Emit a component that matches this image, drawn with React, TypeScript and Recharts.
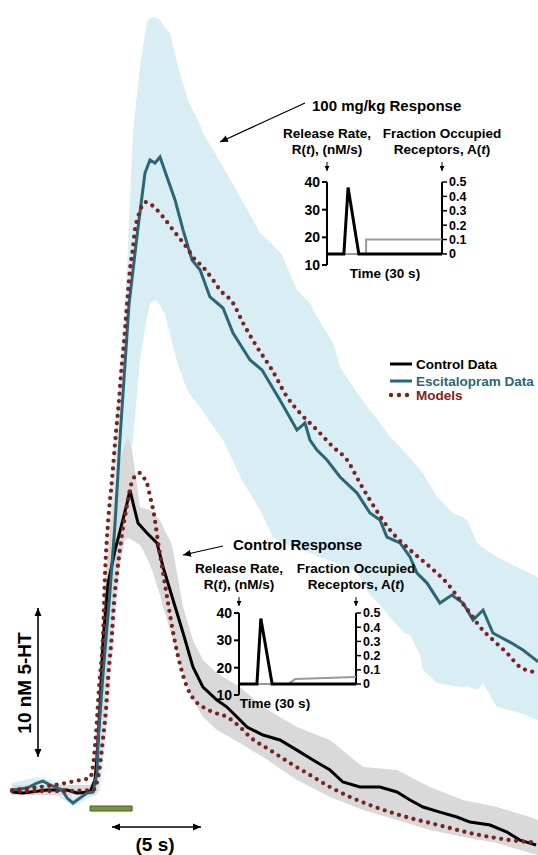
import { Area, ComposedChart, Line, ReferenceArea, ReferenceLine, XAxis, YAxis } from 'recharts';

const FONT = '"Liberation Sans", Arial, Helvetica, sans-serif';

// time (s, 0 = stimulation onset) vs [5-HT] (nM)
const controlData: [number, number][] = [
  [-4.36, -0.13], [-3.74, -0.2], [-2.4, 0], [-1.28, 0], [-0.73, -0.2], [0, -0.13], [0.28, 0.67], [0.39, 2.21],
  [0.56, 5.57], [0.73, 10.07], [1.01, 13.89], [1.4, 16.11], [1.79, 17.92], [2.07, 19.26], [2.23, 20.13],
  [2.46, 18.99], [2.68, 17.92], [3.18, 17.25], [3.74, 16.58], [4.08, 14.97], [4.64, 12.75], [5.2, 10.54],
  [5.75, 8.26], [6.31, 6.91], [7.09, 6.04], [7.65, 5.57], [8.38, 4.7], [8.77, 4.23], [9.66, 3.69], [10.61, 3.36],
  [11.56, 2.68], [12.46, 2.01], [13.41, 1.34], [14.13, 0.54], [15.08, 0.2], [16.2, 0.2], [17.15, -0.13],
  [17.88, -0.67], [18.6, -1.14], [19.55, -1.48], [20.5, -1.81], [21.23, -2.15], [22.35, -2.35], [23.3, -2.82],
  [24.02, -3.36], [24.58, -3.56], [24.92, -3.69],
];

const escitalopramData: [number, number][] = [
  [-4.36, 0], [-3.52, 0.13], [-2.96, 0.47], [-2.63, 0.6], [-2.23, 0.34], [-1.56, 0], [-1.28, -0.54], [-0.95, -0.87],
  [-0.56, -0.54], [-0.17, -0.2], [0.17, -0.13], [0.39, 1.14], [0.45, 3.36], [0.73, 7.85], [1.12, 13.42],
  [1.4, 17.92], [1.68, 23.69], [2.18, 32.62], [2.68, 37.72], [3.07, 41.41], [3.35, 42.28], [3.63, 42.08],
  [3.91, 42.48], [4.3, 41.14], [4.75, 39.6], [5.2, 37.58], [5.7, 35.57], [6.15, 34.9], [6.7, 33.09], [7.43, 32.35],
  [7.99, 30.67], [8.94, 28.86], [9.61, 28.19], [10.61, 26.17], [11.56, 24.16], [12.01, 24.63], [12.29, 23.49],
  [12.68, 22.82], [13.24, 22.15], [13.97, 21.01], [14.92, 19.93], [15.64, 18.59], [16.2, 18.12], [16.59, 16.98],
  [17.32, 16.58], [17.88, 15.64], [18.27, 14.56], [18.83, 13.89], [19.55, 12.55], [20.22, 13.09], [20.84, 12.55],
  [21.4, 11.41], [21.96, 12.08], [22.51, 10.54], [23.46, 9.93], [24.19, 9.4], [24.92, 8.72], [25.03, 8.6],
];

const model100: [number, number][] = [
  [-4.36, 0], [-2.79, 0.2], [-1.68, 0.4], [-0.56, 0.67], [0, 0.81], [0.17, 1.68], [0.34, 3.83], [0.5, 6.85],
  [0.73, 10.54], [0.84, 14.56], [1.01, 17.99], [1.23, 20.87], [1.45, 24.0], [1.62, 26.17], [1.73, 27.92],
  [1.9, 30.07], [2.01, 31.74], [2.12, 33.36], [2.23, 34.9], [2.4, 36.38], [2.51, 37.58], [2.68, 38.46],
  [3.13, 39.46], [3.63, 39.06], [4.08, 38.46], [4.64, 37.58], [5.08, 36.91], [5.42, 36.38], [5.75, 35.77],
  [6.31, 35.1], [6.87, 34.23], [7.26, 33.56], [7.99, 32.68], [8.55, 31.34], [9.33, 29.73], [10.17, 28.19],
  [11.01, 26.38], [11.73, 25.3], [12.68, 24.16], [13.58, 23.02], [14.36, 22.15], [15.08, 20.6], [15.64, 19.46],
  [16.76, 17.45], [17.88, 16.11], [18.99, 14.97], [19.94, 13.89], [20.67, 12.75], [21.23, 11.88], [21.79, 10.94],
  [22.51, 10.07], [23.3, 9.19], [24.02, 8.26], [24.86, 7.92], [25.03, 7.9],
];

const modelControl: [number, number][] = [
  [-4.36, -0.07], [-2.23, -0.07], [0.17, 0], [0.5, 1.21], [0.73, 3.49], [0.89, 5.37], [1.01, 7.52], [1.23, 10.54],
  [1.34, 12.55], [1.51, 14.56], [1.68, 16.24], [2.07, 19.13], [2.29, 20.47], [2.57, 21.14], [2.79, 21.28],
  [2.96, 21.01], [3.18, 20.6], [3.35, 19.73], [3.58, 18.46], [3.8, 16.64], [4.08, 14.56], [4.36, 12.55],
  [4.69, 10.27], [5.08, 8.19], [5.42, 6.91], [5.75, 6.17], [6.31, 5.57], [6.87, 5.23], [7.65, 4.9], [8.38, 4.23],
  [8.94, 3.56], [10.06, 2.68], [11.17, 1.81], [12.29, 1.01], [13.41, 0.2], [14.53, -0.47], [15.64, -1.01],
  [16.76, -1.48], [17.88, -1.88], [18.99, -2.21], [20.11, -2.55], [21.23, -2.89], [22.35, -3.15], [23.46, -3.36],
  [24.58, -3.49], [25.03, -3.52],
];

// [time, low, high] error bands
const controlBand: [number, number, number][] = [
  [-4.36, -0.34, 0.34], [0, -0.34, 0.34], [0.17, -0.34, 0.67], [0.39, -0.13, 4.03], [0.56, 2.01, 8.72],
  [0.84, 6.04, 14.09], [1.12, 10.07, 17.45], [1.4, 13.42, 19.8], [1.68, 15.44, 22.15], [1.96, 16.78, 23.29],
  [2.12, 16.91, 23.69], [2.35, 16.78, 22.82], [2.79, 16.44, 18.99], [2.96, 16.11, 18.93], [3.35, 15.1, 18.79],
  [3.52, 14.56, 18.59], [3.91, 13.09, 18.12], [4.08, 12.28, 17.65], [4.47, 10.74, 16.78], [4.64, 10.07, 16.11],
  [4.86, 9.19, 14.56], [5.2, 7.85, 12.28], [5.75, 6.04, 10.07], [6.31, 4.9, 8.72], [7.09, 4.03, 7.85],
  [8.38, 3.15, 6.91], [9.66, 2.21, 5.57], [11.56, 0.67, 4.23], [13.41, -0.47, 3.36], [15.25, -1.34, 1.54],
  [17.15, -2.01, 1.34], [18.99, -2.68, 0.2], [20.84, -3.15, -0.67], [22.74, -3.56, -1.14], [24.58, -4.23, -1.81],
  [25.03, -4.36, -2.01],
];

const escitalopramBand: [number, number, number][] = [
  [-4.36, -0.4, 0.47], [-2.96, 0.13, 0.87], [-2.23, -0.07, 0.67], [-1.28, -0.81, 0.07], [-0.95, -1.14, -0.47],
  [-0.56, -0.87, -0.2], [0, -0.47, 0.13], [0.28, -0.4, 1.34], [0.56, 0, 9.4], [0.84, 3.02, 13.42],
  [1.12, 6.71, 17.92], [1.4, 11.41, 23.69], [1.68, 14.77, 28.19], [1.96, 18.12, 32.89], [2.12, 20.81, 36.24],
  [2.23, 21.81, 39.6], [2.4, 23.49, 44.09], [2.79, 28.86, 48.52], [3.18, 31.74, 51.54], [3.35, 32.68, 51.81],
  [3.63, 32.89, 51.88], [3.91, 32.55, 51.68], [4.19, 31.88, 51.14], [4.47, 30.54, 50.81], [4.92, 28.52, 48.52],
  [5.47, 26.71, 46.31], [6.15, 25.7, 44.63], [6.31, 25.37, 44.09], [7.43, 23.49, 41.81], [8.49, 20.81, 39.6],
  [9.5, 18.79, 37.38], [10.22, 16.98, 36.58], [10.73, 16.58, 35.91], [11.56, 16.24, 33.56], [12.29, 15.91, 32.68],
  [12.68, 15.7, 31.74], [13.58, 15.3, 30.0], [13.97, 15.1, 28.39], [14.92, 14.63, 26.64], [15.64, 13.09, 25.5],
  [16.2, 12.42, 24.63], [16.76, 11.61, 23.69], [17.49, 10.6, 22.82], [17.88, 10.4, 22.28], [18.44, 9.06, 21.48],
  [18.6, 8.05, 21.28], [19.39, 7.18, 19.66], [20.28, 6.98, 18.59], [20.84, 6.91, 18.32], [21.06, 6.98, 18.12],
  [21.62, 6.71, 16.58], [21.96, 7.18, 16.24], [22.74, 5.57, 15.64], [23.85, 5.23, 14.97], [25.03, 4.7, 14.3],
];

// stimulation bar (s) and its drawn height (nM)
const STIM = [0, 2.35];
const STIM_Y = [-1.41, -1.07];

// insets: time (30 s window) vs R(t) nM/s and A(t)
const release100: [number, number][] = [[0, 14], [4.4, 14], [5.5, 38], [8.3, 14], [30, 14]];
const occupancy100: [number, number][] = [[0, 0], [10.2, 0], [10.2, 0.1], [30, 0.1]];
const releaseCtrl: [number, number][] = [[0, 14], [4.6, 14], [5.6, 38], [8.5, 14], [30, 14]];
const occupancyCtrl: [number, number][] = [[0, 0], [12.6, 0], [14.4, 0.035], [30, 0.05]];
const releaseTicks = [10, 20, 30, 40];
const occupancyTicks = [0, 0.1, 0.2, 0.3, 0.4, 0.5];

const X_DOMAIN = [-5.03, 25.03];
const Y_DOMAIN = [-4.36, 53.02];

const pts = (a: [number, number][]) => a.map(([t, c]) => ({ t, c }));
const band = (a: [number, number, number][]) => a.map(([t, lo, hi]) => ({ t, r: [lo, hi] }));

const TEAL = '#2a6676';
const MAROON = '#7b2222';
const leftTick = { fill: '#000', fontSize: 14, fontWeight: 700, fontFamily: FONT };
const rightTick = { fill: '#000', fontSize: 12.5, fontWeight: 700, fontFamily: FONT };

function Inset({ x, y, w, h, release, occupancy }: { x: number; y: number; w: number; h: number; release: [number, number][]; occupancy: [number, number][] }) {
  const pad = 40;
  return (
    <div style={{ position: 'absolute', left: x - pad, top: y - 10 }}>
      <ComposedChart width={w + pad * 2} height={h + 20} margin={{ top: 10, right: 0, bottom: 10, left: 0 }}>
        <XAxis type="number" dataKey="t" domain={[0, 30]} hide allowDataOverflow />
        <YAxis yAxisId="l" type="number" domain={[10, 40]} ticks={releaseTicks} interval={0} width={pad}
          axisLine={{ stroke: '#000', strokeWidth: 2 }} tickLine={{ stroke: '#000', strokeWidth: 2 }}
          tickSize={5} tickMargin={2} tick={leftTick} allowDataOverflow />
        <YAxis yAxisId="r" orientation="right" type="number" domain={[-0.077, 0.5]} ticks={occupancyTicks} interval={0}
          width={pad} axisLine={false} tickLine={{ stroke: '#000', strokeWidth: 1.5 }} tickSize={5} tickMargin={2}
          tick={rightTick} allowDataOverflow />
        <ReferenceLine yAxisId="r" segment={[{ x: 30, y: 0 }, { x: 30, y: 0.5 }]} stroke="#000" strokeWidth={2} ifOverflow="visible" />
        <Line yAxisId="r" data={pts(occupancy)} dataKey="c" type="linear" stroke="#999" strokeWidth={2}
          dot={false} activeDot={false} isAnimationActive={false} />
        <Line yAxisId="l" data={pts(release)} dataKey="c" type="linear" stroke="#000" strokeWidth={3}
          dot={false} activeDot={false} isAnimationActive={false} />
      </ComposedChart>
    </div>
  );
}

function Txt({ x, y, size = 13.5, anchor = 'middle', fill = '#000', children }: any) {
  return (
    <text x={x} y={y} fontSize={size} fontWeight={700} fontFamily={FONT} textAnchor={anchor} fill={fill}>
      {children}
    </text>
  );
}

function InsetLabels({ lx, rx, y }: { lx: number; rx: number; y: number }) {
  return (
    <g>
      <Txt x={lx} y={y}>Release Rate,</Txt>
      <Txt x={lx} y={y + 16}>R(<tspan fontStyle="italic">t</tspan>), (nM/s)</Txt>
      <Txt x={rx} y={y}>Fraction Occupied</Txt>
      <Txt x={rx} y={y + 16}>Receptors, A(<tspan fontStyle="italic">t</tspan>)</Txt>
      <line x1={lx} y1={y + 24} x2={lx} y2={y + 33} stroke="#000" strokeWidth={1} markerEnd="url(#tiny)" />
      <line x1={rx} y1={y + 24} x2={rx} y2={y + 33} stroke="#000" strokeWidth={1} markerEnd="url(#tiny)" />
    </g>
  );
}

export default function App() {
  return (
    <div style={{ position: 'absolute', left: 0, top: 0, width: 538, height: 855, background: '#fff', overflow: 'hidden' }}>
      <ComposedChart width={538} height={855} margin={{ top: 0, right: 0, bottom: 0, left: 0 }}>
        <XAxis type="number" dataKey="t" domain={X_DOMAIN} hide allowDataOverflow />
        <YAxis type="number" domain={Y_DOMAIN} hide width={0} allowDataOverflow />
        <Area data={band(escitalopramBand)} dataKey="r" type="linear" stroke="none" fill="#d8edf4" fillOpacity={1}
          isAnimationActive={false} activeDot={false} />
        <Area data={band(controlBand)} dataKey="r" type="linear" stroke="none" fill="#d9d9d9" fillOpacity={1}
          isAnimationActive={false} activeDot={false} />
        <ReferenceArea x1={STIM[0]} x2={STIM[1]} y1={STIM_Y[0]} y2={STIM_Y[1]} fill="#77933c" fillOpacity={1}
          stroke="#4f6228" strokeWidth={1} ifOverflow="visible" />
        <Line data={pts(controlData)} dataKey="c" type="linear" stroke="#000" strokeWidth={3}
          dot={false} activeDot={false} isAnimationActive={false} />
        <Line data={pts(escitalopramData)} dataKey="c" type="linear" stroke={TEAL} strokeWidth={3}
          dot={false} activeDot={false} isAnimationActive={false} />
        <Line data={pts(model100)} dataKey="c" type="monotone" stroke={MAROON} strokeWidth={4.3} strokeLinecap="round"
          strokeDasharray="0 7.5" dot={false} activeDot={false} isAnimationActive={false} />
        <Line data={pts(modelControl)} dataKey="c" type="monotone" stroke={MAROON} strokeWidth={4.3} strokeLinecap="round"
          strokeDasharray="0 7.5" dot={false} activeDot={false} isAnimationActive={false} />
      </ComposedChart>

      <Inset x={327} y={182} w={115} h={83} release={release100} occupancy={occupancy100} />
      <Inset x={239} y={613} w={117} h={82} release={releaseCtrl} occupancy={occupancyCtrl} />

      <svg width={538} height={855} style={{ position: 'absolute', left: 0, top: 0, pointerEvents: 'none' }}>
        <defs>
          <marker id="head" markerUnits="userSpaceOnUse" markerWidth={8} markerHeight={8} refX={8} refY={4} orient="auto-start-reverse">
            <path d="M0,0.5 L8,4 L0,7.5 z" fill="#000" />
          </marker>
          <marker id="tiny" markerUnits="userSpaceOnUse" markerWidth={5} markerHeight={5} refX={5} refY={2.5} orient="auto">
            <path d="M0,0 L5,2.5 L0,5 z" fill="#000" />
          </marker>
        </defs>

        <Txt x={312} y={111} size={15} anchor="start">100 mg/kg Response</Txt>
        <line x1={305} y1={103} x2={220} y2={142} stroke="#000" strokeWidth={1.2} markerEnd="url(#head)" />
        <InsetLabels lx={327} rx={442} y={138} />
        <Txt x={385} y={278}>Time (30 s)</Txt>

        <Txt x={233} y={550} size={15} anchor="start">Control Response</Txt>
        <line x1={223} y1={546} x2={183} y2={555} stroke="#000" strokeWidth={1.2} markerEnd="url(#head)" />
        <InsetLabels lx={239} rx={356} y={573} />
        <Txt x={275} y={708}>Time (30 s)</Txt>

        <line x1={390} y1={364} x2={412} y2={364} stroke="#000" strokeWidth={3} />
        <line x1={390} y1={381} x2={412} y2={381} stroke={TEAL} strokeWidth={3} />
        {[391, 399, 407].map((cx) => <circle key={cx} cx={cx} cy={395} r={2.2} fill={MAROON} />)}
        <Txt x={416} y={369} anchor="start">Control Data</Txt>
        <Txt x={416} y={386} anchor="start" fill={TEAL}>Escitalopram Data</Txt>
        <Txt x={416} y={400} anchor="start" fill={MAROON}>Models</Txt>

        <line x1={38} y1={608} x2={38} y2={757} stroke="#000" strokeWidth={1.6} markerStart="url(#head)" markerEnd="url(#head)" />
        <text x={0} y={0} transform="translate(31,683) rotate(-90)" fontSize={19} fontWeight={700} fontFamily={FONT} textAnchor="middle">10 nM 5-HT</text>
        <line x1={112} y1={827} x2={201} y2={827} stroke="#000" strokeWidth={1.6} markerStart="url(#head)" markerEnd="url(#head)" />
        <Txt x={155} y={851} size={19}>(5 s)</Txt>
      </svg>
    </div>
  );
}
